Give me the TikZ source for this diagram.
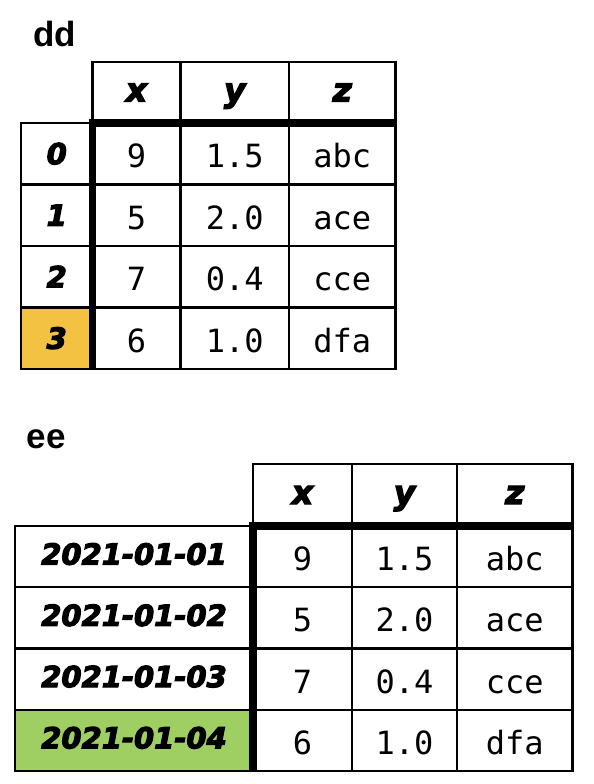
\documentclass[tikz,border=0pt]{standalone}
\usepackage{fontspec}
\setmainfont{Liberation Sans}
\newfontfamily\monof{DejaVu Sans Mono}
\newfontfamily\heavyf{DejaVu Sans}[FakeBold=4]
\definecolor{ddorange}{RGB}{244,194,66}
\definecolor{eegreen}{RGB}{159,207,99}
\tikzset{
  grid/.style={draw=black, line width=2.2pt, inner sep=0pt, outer sep=0pt, anchor=center},
  hdr/.style={grid, font=\heavyf\bfseries\itshape\fontsize{33}{33}\selectfont, text height=18pt, text depth=0pt},
  idx/.style={grid, font=\heavyf\bfseries\itshape\fontsize{29}{29}\selectfont, text height=21pt, text depth=0pt},
  idxdate/.style={idx, text depth=5pt},
  dat/.style={grid, font=\monof\fontsize{32}{32}\selectfont, text height=28pt, text depth=0pt},
  ttl/.style={font=\bfseries\fontsize{35}{35}\selectfont, inner sep=0pt, anchor=base west},
  heavyrule/.style={line width=7.5pt, line cap=butt},
}
\begin{document}
\begin{tikzpicture}[x=1pt,y=-1pt]
\useasboundingbox[fill=white] (0,0) rectangle (594,784);

% ---------- dd ----------
\node[ttl] (ddtitle) at (33,47) {dd};
\foreach \c/\cx/\w in {x/136.5/88, y/234.75/108.5, z/342.25/106.5}{
  \node[hdr, minimum width=\w pt, minimum height=61pt] (dd-h-\c) at (\cx,92.5) {\c};
}
\foreach \r/\ry/\a/\b/\cc/\fl in {0/153.75/9/1.5/abc/white, 1/215.25/5/2.0/ace/white, 2/276.75/7/0.4/cce/white, 3/338.25/6/1.0/dfa/ddorange}{
  \node[idx, fill=\fl, minimum width=71.5pt, minimum height=61.5pt] (dd-i\r) at (56.75,\ry) {\r};
  \node[dat, minimum width=88pt, minimum height=61.5pt] (dd-r\r-x) at (136.5,\ry) {\a};
  \node[dat, minimum width=108.5pt, minimum height=61.5pt] (dd-r\r-y) at (234.75,\ry) {\b};
  \node[dat, minimum width=106.5pt, minimum height=61.5pt] (dd-r\r-z) at (342.25,\ry) {\cc};
}
\draw[heavyrule] ([xshift=-3.75pt]dd-h-x.south west) -- ([xshift=1.1pt]dd-h-z.south east);
\draw[heavyrule] ([yshift=3.75pt]dd-h-x.south west) -- ([yshift=-1.1pt]dd-r3-x.south west);

% ---------- ee ----------
\node[ttl] (eetitle) at (26.5,448) {ee};
\foreach \c/\cx/\w in {x/302.5/99, y/404.5/105, z/514.75/115.5}{
  \node[hdr, minimum width=\w pt, minimum height=62pt] (ee-h-\c) at (\cx,495) {\c};
}
\foreach \r/\ry/\d/\a/\b/\cc/\fl in {0/556.625/2021-01-01/9/1.5/abc/white, 1/617.875/2021-01-02/5/2.0/ace/white, 2/679.125/2021-01-03/7/0.4/cce/white, 3/740.375/2021-01-04/6/1.0/dfa/eegreen}{
  \node[idxdate, fill=\fl, minimum width=238pt, minimum height=61.25pt] (ee-i\r) at (134,\ry) {\d};
  \node[dat, minimum width=99pt, minimum height=61.25pt] (ee-r\r-x) at (302.5,\ry) {\a};
  \node[dat, minimum width=105pt, minimum height=61.25pt] (ee-r\r-y) at (404.5,\ry) {\b};
  \node[dat, minimum width=115.5pt, minimum height=61.25pt] (ee-r\r-z) at (514.75,\ry) {\cc};
}
\draw[heavyrule] ([xshift=-3.75pt]ee-h-x.south west) -- ([xshift=1.1pt]ee-h-z.south east);
\draw[heavyrule] ([yshift=3.75pt]ee-h-x.south west) -- ([yshift=-1.1pt]ee-r3-x.south west);
\end{tikzpicture}
\end{document}
